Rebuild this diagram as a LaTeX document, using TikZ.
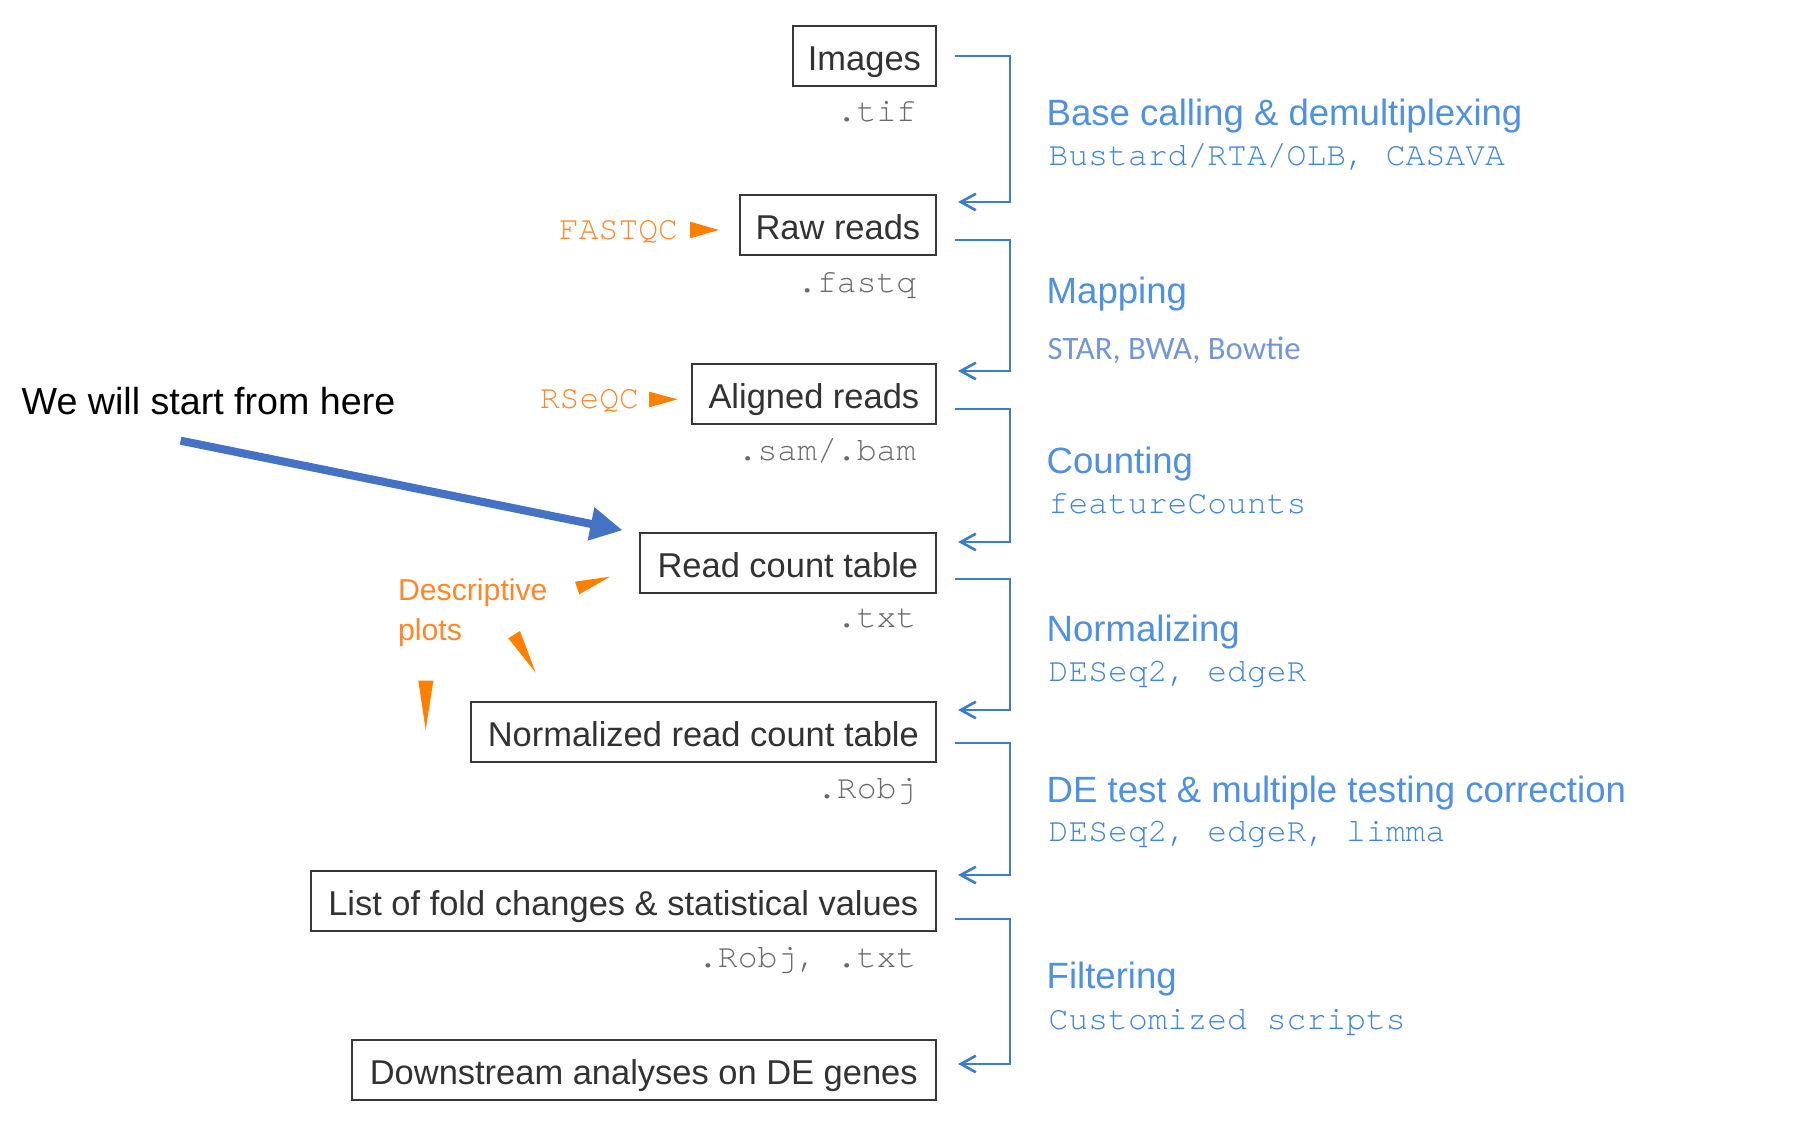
\documentclass[tikz,border=0pt]{standalone}
\usepackage{fontspec}
\setmainfont{Liberation Sans}
\newfontfamily\monofont{texgyrecursor-regular.otf}
\newfontfamily\calfont{Carlito}
\usepackage{tikz}
\usetikzlibrary{positioning}
\usetikzlibrary{arrows.meta}

\definecolor{boxline}{RGB}{55,55,55}
\definecolor{boxtext}{RGB}{50,50,50}
\definecolor{extgray}{RGB}{105,105,105}
\definecolor{linkblue}{RGB}{60,125,200}
\definecolor{stageblue}{RGB}{78,144,226}
\definecolor{toolblue}{RGB}{62,132,218}
\definecolor{mapblue}{RGB}{115,150,215}
\definecolor{qcorange}{RGB}{255,128,0}
\definecolor{plotorange}{RGB}{255,135,40}
\definecolor{startblue}{RGB}{68,114,196}

\begin{document}
\begin{tikzpicture}[x=0.01cm, y=-0.01cm]
    \tikzstyle{box}=[draw=boxline, line width=0.6pt, anchor=east, minimum height=0.6cm, inner sep=0, text height=8pt, text depth=0pt, text=boxtext, font=\fontsize{9.8pt}{12pt}\selectfont]
    \tikzstyle{ext}=[anchor=base east, inner sep=0, text=extgray, font=\monofont\fontsize{9.4pt}{11pt}\selectfont]
    \tikzstyle{stage}=[anchor=base west, inner sep=0, text=stageblue, font=\fontsize{10.4pt}{12pt}\selectfont]
    \tikzstyle{tool}=[anchor=base west, inner sep=0, text=toolblue, font=\monofont\fontsize{9.4pt}{11pt}\selectfont]
    \tikzstyle{qc}=[inner sep=0, text=plotorange, font=\monofont\fontsize{9.4pt}{11pt}\selectfont]
    \tikzstyle{pointer}=[fill=qcorange]
    \tikzstyle{link}=[draw=linkblue, line width=0.75pt, -{Straight Barb[length=4.3pt, width=4.7pt]}]

    \useasboundingbox (0,0) rectangle (1793,1125);

    \node[box, minimum width=1.43cm] (img) at (937, 56) {Images};
    \node[box, minimum width=1.96cm] (raw) at (937, 225) {Raw reads};
    \node[box, minimum width=2.44cm] (ali) at (937, 394) {Aligned reads};
    \node[box, minimum width=2.96cm] (rct) at (937, 563) {Read count table};
    \node[box, minimum width=4.65cm] (nrct) at (937, 732) {Normalized read count table};
    \node[box, minimum width=6.25cm] (fc) at (937, 901) {List of fold changes \& statistical values};
    \node[box, minimum width=5.84cm] (down) at (937, 1070) {Downstream analyses on DE genes};

    \node[ext] (imgext) at ([shift={(-20,66)}]img.east) {.tif};
    \node[ext] (rawext) at ([shift={(-20,68)}]raw.east) {.fastq};
    \node[ext] (aliext) at ([shift={(-20,67)}]ali.east) {.sam/.bam};
    \node[ext] (rctext) at ([shift={(-20,65)}]rct.east) {.txt};
    \node[ext] (nrctext) at ([shift={(-20,67)}]nrct.east) {.Robj};
    \node[ext] (fcext) at ([shift={(-20,67)}]fc.east) {.Robj, .txt};

    \draw[link] ([shift={(18,0)}]img.east) -| ([shift={(73,-23)}]raw.east) -- ([shift={(21,-23)}]raw.east);
    \draw[link] ([shift={(18,15)}]raw.east) -| ([shift={(73,-23)}]ali.east) -- ([shift={(21,-23)}]ali.east);
    \draw[link] ([shift={(18,15)}]ali.east) -| ([shift={(73,-21)}]rct.east) -- ([shift={(21,-21)}]rct.east);
    \draw[link] ([shift={(18,16)}]rct.east) -| ([shift={(73,-22)}]nrct.east) -- ([shift={(21,-22)}]nrct.east);
    \draw[link] ([shift={(18,11)}]nrct.east) -| ([shift={(73,-26)}]fc.east) -- ([shift={(21,-26)}]fc.east);
    \draw[link] ([shift={(18,18)}]fc.east) -| ([shift={(73,-6)}]down.east) -- ([shift={(21,-6)}]down.east);

    \node[stage] (basecall) at (1046, 126) {Base calling \& demultiplexing};
    \node[tool] (basetool) at (1048, 165.7) {Bustard/RTA/OLB, CASAVA};
    \node[stage] (mapping) at (1046, 303.3) {Mapping};
    \node[tool, text=mapblue, font=\calfont\fontsize{9.3pt}{11pt}\selectfont] (maptool) at (1047, 360) {STAR, BWA, Bowtie};
    \node[stage] (counting) at (1046, 473.3) {Counting};
    \node[tool] (counttool) at (1048, 513.3) {featureCounts};
    \node[stage] (normalizing) at (1046, 641.7) {Normalizing};
    \node[tool] (normtool) at (1048, 681.7) {DESeq2, edgeR};
    \node[stage] (detest) at (1046, 802.3) {DE test \& multiple testing correction};
    \node[tool] (detool) at (1048, 841.7) {DESeq2, edgeR, limma};
    \node[stage] (filtering) at (1046, 988.3) {Filtering};
    \node[tool] (filtertool) at (1048, 1030) {Customized scripts};

    \node[qc, base left=0.60cm of raw] (fastqc) {FASTQC};
    \node[qc, base left=0.51cm of ali] (rseqc) {RSeQC};
    \fill[pointer] (690,221.7) -- (690,238.3) -- (719,230) -- cycle;
    \fill[pointer] (649,391.7) -- (649,407.3) -- (677.7,399.3) -- cycle;

    \node[anchor=north west, inner sep=0, align=left, text=plotorange, font=\fontsize{8.6pt}{11.2pt}\selectfont] (desc) at (397.3, 578.3) {Descriptive\\plots};
    \fill[pointer] (575,581.7) -- (610,576.7) -- (579.3,594.3) -- cycle;
    \fill[pointer] (508.3,638.3) -- (520,631) -- (535.7,672.7) -- cycle;
    \fill[pointer] (418.3,680.7) -- (433.3,680.7) -- (425.7,730) -- cycle;

    \node[anchor=base west, inner sep=0, font=\fontsize{10.7pt}{12pt}\selectfont] (start) at (21, 415) {We will start from here};
    \coordinate (tail) at (180.6, 440.7);
    \draw[draw=startblue, line width=2.3pt, -{Triangle[length=9.2pt, width=9pt]}] (tail) -- ([shift={(-16,-1.6)}]rct.north west);
  \end{tikzpicture}
\end{document}
